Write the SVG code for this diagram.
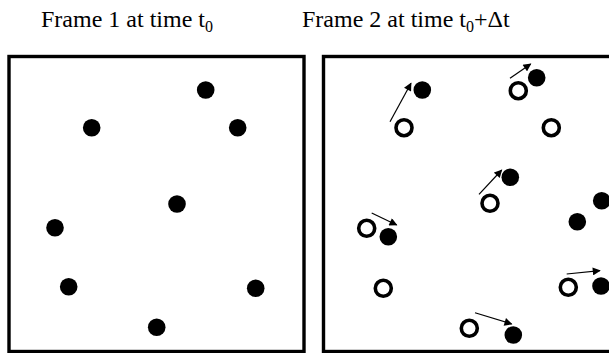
<svg xmlns="http://www.w3.org/2000/svg" width="609" height="353" viewBox="0 0 609 353">
<style>
.title{font-family:"Liberation Serif","Times New Roman",serif;font-size:24px;fill:#000}
.sub{font-size:16px}
.frame{fill:none;stroke:#000;stroke-width:3.4}
.dot{fill:#000}
.ring{fill:none;stroke:#000;stroke-width:3.6}
.arrow{stroke:#000;stroke-width:1.2;fill:none;marker-end:url(#ah)}
</style>
<defs>
<marker id="ah" viewBox="0 0 10 10" refX="9" refY="5" markerWidth="9" markerHeight="8" markerUnits="userSpaceOnUse" orient="auto">
<path d="M0,0 L10,5 L0,10 z" fill="#000"/>
</marker>
</defs>
<rect width="609" height="353" fill="#fff"/>
<g id="titles">
<text class="title" x="41" y="27">Frame 1 at time t<tspan class="sub" dy="5">0</tspan></text>
<text class="title" x="302" y="27">Frame 2 at time t<tspan class="sub" dy="5">0</tspan><tspan dy="-5">+Δt</tspan></text>
</g>
<g id="frame1">
<rect class="frame" x="9" y="56.5" width="295" height="295"/>
<circle class="dot" cx="205.7" cy="90" r="8.8"/>
<circle class="dot" cx="91.7" cy="127.7" r="8.8"/>
<circle class="dot" cx="237.7" cy="127.7" r="8.8"/>
<circle class="dot" cx="177" cy="204" r="8.8"/>
<circle class="dot" cx="55" cy="227.7" r="8.8"/>
<circle class="dot" cx="68.7" cy="286.7" r="8.8"/>
<circle class="dot" cx="255.7" cy="288.3" r="8.8"/>
<circle class="dot" cx="156.7" cy="327.3" r="8.8"/>
</g>
<g id="frame2">
<rect class="frame" x="323.5" y="56.5" width="300" height="295"/>
<circle class="dot" cx="422.3" cy="90" r="8.8"/>
<circle class="ring" cx="404" cy="127.7" r="8"/>
<circle class="dot" cx="536.7" cy="77.7" r="8.8"/>
<circle class="ring" cx="518.3" cy="90.7" r="8"/>
<circle class="ring" cx="551.3" cy="127.7" r="8"/>
<circle class="dot" cx="510.3" cy="177.3" r="8.8"/>
<circle class="ring" cx="490" cy="203.3" r="8"/>
<circle class="dot" cx="601.7" cy="200.7" r="8.8"/>
<circle class="dot" cx="577.3" cy="221.7" r="8.8"/>
<circle class="ring" cx="366.7" cy="228.3" r="8"/>
<circle class="dot" cx="388.3" cy="236.7" r="8.8"/>
<circle class="ring" cx="383.3" cy="288.3" r="8"/>
<circle class="ring" cx="568.3" cy="287.3" r="8"/>
<circle class="dot" cx="601" cy="286" r="8.8"/>
<circle class="ring" cx="469.3" cy="328.3" r="8"/>
<circle class="dot" cx="513.3" cy="335" r="8.8"/>
</g>
<g id="connectors">
<line class="arrow" x1="390" y1="121.7" x2="411" y2="83.3"/>
<line class="arrow" x1="510" y1="78.3" x2="530.7" y2="64"/>
<line class="arrow" x1="479" y1="194.3" x2="501.7" y2="170"/>
<line class="arrow" x1="371.7" y1="213" x2="396.7" y2="225"/>
<line class="arrow" x1="566.7" y1="274" x2="600" y2="270.7"/>
<line class="arrow" x1="475" y1="312.7" x2="511.7" y2="324"/>
</g>
</svg>
